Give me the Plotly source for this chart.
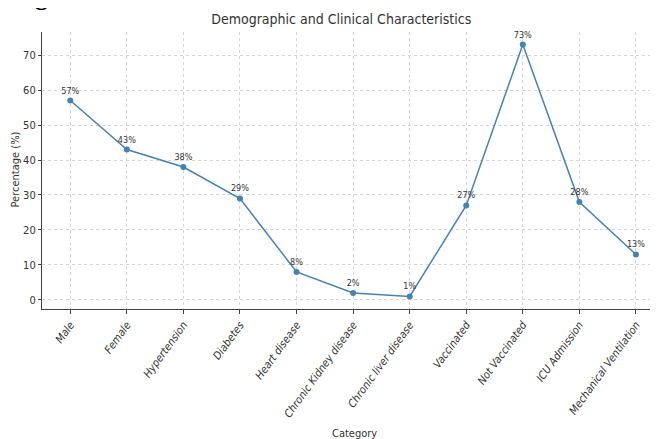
import plotly.graph_objects as go

categories = ["Male", "Female", "Hypertension", "Diabetes", "Heart disease",
              "Chronic Kidney disease", "Chronic liver disease", "Vaccinated",
              "Not Vaccinated", "ICU Admission", "Mechanical Ventilation"]
percentages = [57, 43, 38, 29, 8, 2, 1, 27, 73, 28, 13]
labels = [f"{v}%" for v in percentages]

FONT = "DejaVu Sans Condensed, DejaVu Sans, sans-serif"

fig = go.Figure()
fig.add_trace(go.Scatter(
    x=list(range(len(categories))), y=percentages,
    mode="lines+markers+text",
    line=dict(color="#4682B4", width=1.5),
    marker=dict(color="#4682B4", size=6),
    text=labels, textposition="top center",
    textfont=dict(family=FONT, size=9, color="#333333"),
    cliponaxis=False, showlegend=False,
))

# cropped caption fragment at the very top-left
fig.add_annotation(text="<b>Fig</b>", xref="paper", yref="paper", x=-0.052, y=1.0,
                   yshift=19, xanchor="left", yanchor="bottom", showarrow=False,
                   font=dict(family="Liberation Serif, serif", size=26, color="black"))

# axis titles placed explicitly
fig.add_annotation(text="Category", xref="paper", yref="paper", x=0.5065, y=-0.448,
                   xanchor="center", yanchor="middle", showarrow=False,
                   font=dict(family=FONT, size=11, color="#333333"))
fig.add_annotation(text="Percentage (%)", xref="paper", yref="paper", x=-0.043, y=0.502,
                   xanchor="center", yanchor="middle", textangle=-90, showarrow=False,
                   font=dict(family=FONT, size=11, color="#333333"))

fig.update_layout(
    width=658, height=439,
    margin=dict(l=34, r=8, t=24, b=138),
    paper_bgcolor="white", plot_bgcolor="white",
    font=dict(family=FONT, color="#333333"),
    title=dict(text="Demographic and Clinical Characteristics", x=0.5065, xanchor="center",
               y=1 - 11 / 439, yanchor="middle", font=dict(size=14, color="#333333")),
    xaxis=dict(
        range=[-0.5, 10.39], tickmode="array", automargin=False,
        tickvals=list(range(len(categories))), ticktext=categories,
        tickangle=-54, tickfont=dict(size=11, style="italic", color="#333333"),
        showline=True, linecolor="#444444", linewidth=1.2, mirror=False,
        ticks="outside", ticklen=4, tickcolor="#444444",
        showgrid=True, gridcolor="#d6d6d6", griddash="dot", gridwidth=0.7,
        zeroline=False,
    ),
    yaxis=dict(
        range=[-2.6, 76.6], tickvals=[0, 10, 20, 30, 40, 50, 60, 70], automargin=False,
        tickfont=dict(size=11, color="#333333"),
        showline=True, linecolor="#444444", linewidth=1.2,
        ticks="outside", ticklen=3, tickcolor="#444444",
        showgrid=True, gridcolor="#d6d6d6", griddash="dot", gridwidth=0.7,
        zeroline=False,
    ),
)

fig.write_html("out.html")
